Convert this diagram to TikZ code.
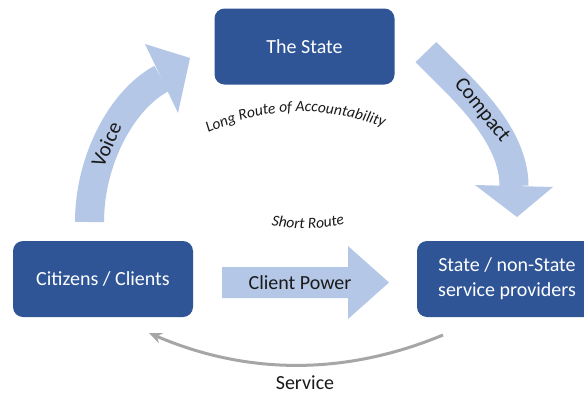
\documentclass[tikz,border=0pt]{standalone}
\usepackage{fontspec}
\setmainfont{Carlito}
\usetikzlibrary{arrows.meta,decorations.text}
\definecolor{boxblue}{HTML}{2F5597}
\definecolor{arrowblue}{HTML}{B4C7E7}
\definecolor{servicegray}{HTML}{A6A6A6}
\definecolor{textdark}{HTML}{1A1A1A}
\newcommand\routefont{\fontsize{15.5}{18}\selectfont\itshape\color{textdark}}
\begin{document}
\begin{tikzpicture}[x=1pt,y=-1pt,
  actor/.style={fill=boxblue, rounded corners=10pt, text=white,
    minimum width=180pt, minimum height=76pt, align=center,
    font=\fontsize{20}{25}\selectfont, inner sep=0pt},
  shaft/.style={draw=arrowblue, line width=29pt, line cap=butt},
  blockhead/.style={fill=arrowblue},
  flowlabel/.style={font=\fontsize{21}{24}\selectfont, text=textdark, inner sep=1pt},
  plainlabel/.style={font=\fontsize{20}{24}\selectfont, text=textdark, inner sep=1pt},
  routetext/.style={decorate, decoration={text along path,
    text={|\routefont|#1}, text align=center}}
]
\useasboundingbox (0,0) rectangle (584,394);
\clip (0,0) rectangle (584,394);
\fill[white] (0,0) rectangle (584,394);

% the three actors
\node[actor] (state)     at (304.5,46.5) {The State};
\node[actor] (citizens)  at (103,279)    {Citizens / Clients};
\node[actor] (providers) at (507,279)    {State / non-State\\service providers};

% Voice: curved block arrow from citizens up to the state
\coordinate (voiceS) at (89.5,222);
\coordinate (voiceE) at (161.5,78.5);
\coordinate (voiceL) at (145,44);
\coordinate (voiceT) at (190,58);
\coordinate (voiceR) at (178,113);
\draw[shaft] (voiceS) .. controls (89.5,160) and (122,99.5) .. (voiceE)
  node[pos=0.44, sloped, flowlabel] (voicelbl) {Voice};
\fill[blockhead] (voiceL) -- (voiceT) -- (voiceR) -- cycle;

% Compact: curved block arrow from the state down to the providers
\coordinate (compS) at (426,52);
\coordinate (compE) at (514,186);
\coordinate (compL) at (475,185);
\coordinate (compT) at (517,217);
\coordinate (compR) at (553,187);
\draw[shaft] (compS) .. controls (457,84.4) and (514,131) .. (compE)
  node[pos=0.5, sloped, flowlabel] (complbl) {Compact};
\fill[blockhead] (compL) -- (compT) -- (compR) -- cycle;

% Client Power: straight block arrow between citizens and providers
\fill[blockhead] (222,267) -- (348,267) -- (348,246) -- (389,282.5)
  -- (348,319) -- (348,298) -- (222,298) -- cycle;
\node[plainlabel] (powerlbl) at (300,283) {Client Power};

% Service: thin grey return arc
\coordinate (svcA) at (443,335);
\coordinate (svcB) at (149,333);
\draw[servicegray, line width=3pt, -{Stealth[length=13pt,width=11pt]}]
  (svcA) .. controls (345,375.7) and (247,375) .. (svcB);
\node[plainlabel] (svclbl) at (305,383) {Service};

% route captions set along gentle arcs
\path[routetext={Long Route of Accountability}]
  (204,135) .. controls (262,106) and (323,104) .. (388,129);
\path[routetext={Short Route}]
  (264,224) .. controls (293,230.7) and (321,230) .. (352,222);
\end{tikzpicture}
\end{document}
